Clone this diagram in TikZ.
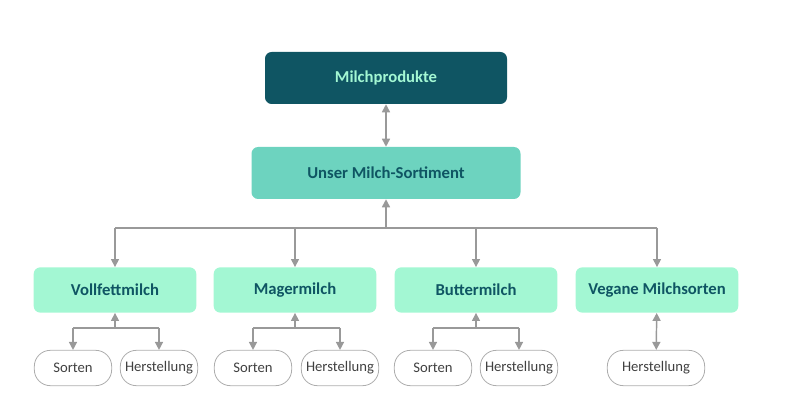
\documentclass[tikz,border=0pt]{standalone}
\usepackage{fontspec}
\setmainfont{Carlito}
\usetikzlibrary{arrows.meta}
\definecolor{dark}{HTML}{0F5563}
\definecolor{mint}{HTML}{A3F7D3}
\definecolor{mid}{HTML}{6DD3BF}
\definecolor{ln}{HTML}{999999}
\begin{document}
\begin{tikzpicture}[x=0.75pt,y=-0.75pt,
 box/.style={rounded corners=5pt,inner sep=0pt,font=\fontsize{12.5}{14}\selectfont\bfseries},
 leaf/.style={draw=ln!80,line width=0.6pt,rounded corners=12pt,minimum height=26.5pt,inner sep=0pt,font=\fontsize{11}{13}\selectfont,text=black!75},
 con/.style={draw=ln,line width=1.1pt},
 arr/.style={con,-{Triangle[length=6pt,width=6pt]}}]
\useasboundingbox (0,0) rectangle (800,416);
\node[box,fill=dark,text=mint,minimum width=181.5pt,minimum height=39pt] (top) at (386,78) {Milchprodukte};
\node[box,fill=mid,text=dark,minimum width=201.75pt,minimum height=39pt] (mid) at (386,173) {Unser Milch-Sortiment};
\foreach \n/\x/\t in {v/115/Vollfettmilch,m/295/Magermilch,b/476/Buttermilch,g/657/Vegane Milchsorten}
 \node[box,fill=mint,text=dark,minimum width=122pt,minimum height=34pt] (\n) at (\x,290) {\t};
\foreach \n/\x/\t/\w in {vs/73/Sorten/58,vh/159/Herstellung/58,ms/253/Sorten/58,mh/340/Herstellung/58,bs/433/Sorten/58,bh/519/Herstellung/58,gh/656/Herstellung/73}
 \node[leaf,minimum width=\w pt] (\n) at (\x,368) {\t};
\draw[arr,{Triangle[length=6pt,width=6pt]}-{Triangle[length=6pt,width=6pt]}] (top) -- (mid);
\coordinate (j) at (386,228);
\draw[arr] (j) -- (mid);
\draw[con] (v |- j) -- (g |- j);
\foreach \n in {v,m,b,g} \draw[arr] (\n |- j) -- (\n);
\foreach \p/\a/\c in {v/vs/vh,m/ms/mh,b/bs/bh}{
 \coordinate (j\p) at (\p.south |- 0,328);
 \draw[arr] (j\p) -- (\p);
 \draw[con] (\a |- j\p) -- (\c |- j\p);
 \draw[arr] (\a |- j\p) -- (\a);
 \draw[arr] (\c |- j\p) -- (\c);
}
\draw[arr,{Triangle[length=6pt,width=6pt]}-{Triangle[length=6pt,width=6pt]}] (g) -- (gh);
\end{tikzpicture}
\end{document}
